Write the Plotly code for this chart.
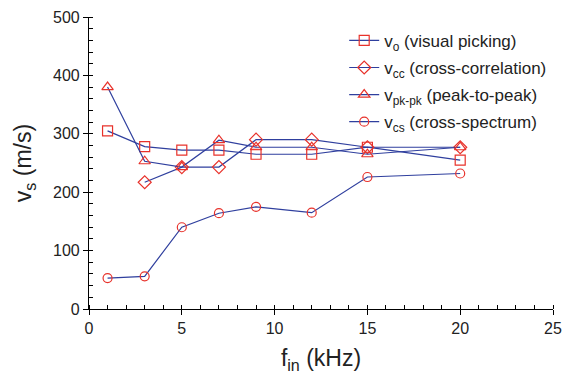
import plotly.graph_objects as go

f_in = [1, 3, 5, 7, 9, 12, 15, 20]
v_o = [305, 278, 272, 272, 265, 265, 277, 255]
f_cc = [3, 5, 7, 9, 12, 15, 20]
v_cc = [217, 243, 243, 290, 290, 277, 277]
v_pk = [380, 253, 243, 289, 277, 277, 265, 277]
v_cs = [53, 56, 140, 164, 175, 165, 226, 232]

names = ["v<sub>o</sub> (visual picking)", "v<sub>cc</sub> (cross-correlation)",
         "v<sub>pk-pk</sub> (peak-to-peak)", "v<sub>cs</sub> (cross-spectrum)"]

LINE = "#2f3f9e"
MARK = "#e8322b"
FONT = "Liberation Sans, Arial"

fig = go.Figure()
series = [(f_in, v_o, "square-open", 10), (f_cc, v_cc, "diamond-open", 10),
          (f_in, v_pk, "triangle-up-open", 10), (f_in, v_cs, "circle-open", 9)]
for i, ((x, y, sym, sz), nm) in enumerate(zip(series, names)):
    fig.add_trace(go.Scatter(x=x, y=y, name=nm, mode="lines+markers", legendgroup=f"g{i}",
                             line=dict(color=LINE, width=1.2),
                             marker=dict(symbol=sym, size=sz, color=MARK,
                                         line=dict(color=MARK, width=1.2))))

axis_common = dict(showline=True, linecolor="black", linewidth=1.2, showgrid=False,
                   zeroline=False, ticks="outside", ticklen=5, tickcolor="black",
                   tickfont=dict(family=FONT, size=16, color="#222"),
                   mirror=False, automargin=False)
fig.update_xaxes(range=[0, 25], dtick=5, tick0=0,
                 minor=dict(dtick=1, ticks="inside", ticklen=4, tickcolor="black", showgrid=False),
                 title=dict(text="f<sub>in</sub> (kHz)", font=dict(family=FONT, size=23, color="#222"), standoff=13),
                 **axis_common)
fig.update_yaxes(range=[0, 500], dtick=100, tick0=0,
                 minor=dict(dtick=20, ticks="inside", ticklen=4, tickcolor="black", showgrid=False),
                 title=dict(text="v<sub>s</sub> (m/s)", font=dict(family=FONT, size=23, color="#222"), standoff=14),
                 **axis_common)

fig.update_layout(width=567, height=368, margin=dict(l=81, r=22, t=9, b=67),
                  plot_bgcolor="white", paper_bgcolor="white",
                  legend=dict(x=0.55, y=0.98, xanchor="left", yanchor="top",
                              font=dict(family=FONT, size=17, color="#222"),
                              bgcolor="rgba(0,0,0,0)", tracegroupgap=2, itemwidth=30))
fig.write_html("out.html")
